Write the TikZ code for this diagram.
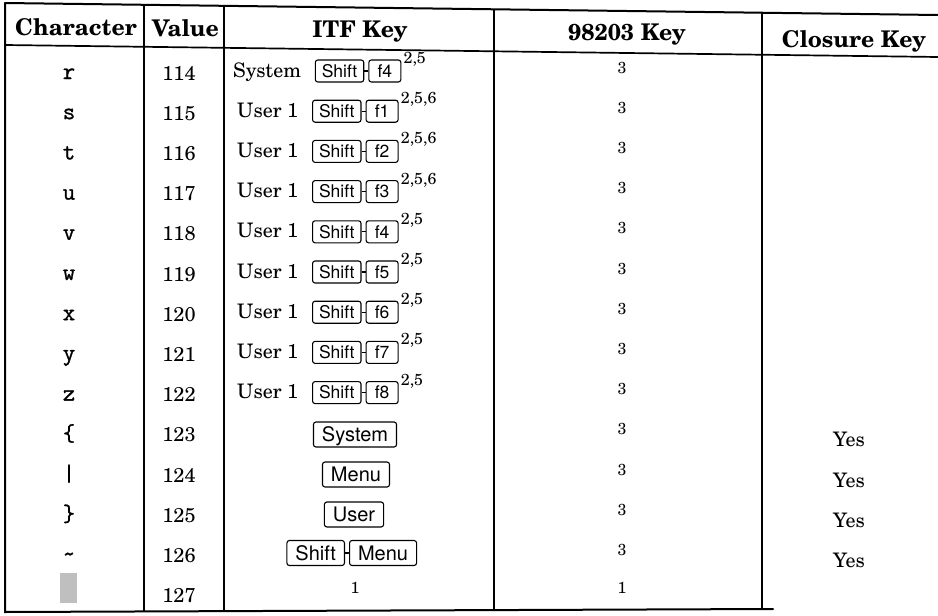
\documentclass[tikz,border=0pt]{standalone}
\usepackage{fontspec}
\setmainfont{texgyreschola}[Extension=.otf, UprightFont=*-regular, BoldFont=*-bold, ItalicFont=*-italic, BoldItalicFont=*-bolditalic]
\newfontfamily\heros{TeX Gyre Heros}
\newfontfamily\ttb{Latin Modern Mono}[FakeBold=1.3]
\usetikzlibrary{calc}
\tikzset{
  border/.style={line width=2pt, line cap=round},
  rule/.style={line width=1.7pt},
  head/.style={font=\bfseries\fontsize{23}{26}\selectfont, anchor=base, inner sep=0pt},
  txt/.style={font=\fontsize{20}{24}\selectfont, inner sep=0pt},
  chr/.style={font=\ttb\fontsize{24}{26}\selectfont, anchor=base, inner sep=0pt},
  small/.style={font=\fontsize{16}{18}\selectfont, anchor=base, inner sep=0pt},
  supr/.style={font=\fontsize{16}{18}\selectfont, anchor=base west, inner sep=0pt},
  key/.style={draw, line width=1.1pt, rounded corners=2.5pt, font=\heros\fontsize{17.5}{17.5}\selectfont,
    text height=12.6pt, text depth=0pt, inner xsep=6.5pt, inner ysep=0pt, minimum height=22pt, minimum width=32pt},
  bigkey/.style={key, font=\heros\fontsize{20}{20}\selectfont, text height=14.4pt, minimum height=25pt, inner xsep=8.5pt},
  link/.style={line width=1.1pt},
}
\begin{document}
\begin{tikzpicture}[x=1pt,y=-1pt]
\useasboundingbox (0,0) rectangle (938,616);
% frame
\draw[border] (5,3) -- (938,15);
\draw[rule] (5,45) -- (938,57);
\draw[border] (5,3) -- (5,612) -- (773,609);
\draw[rule] (144,4.8) -- (144,611.4);
\draw[rule] (224,5.9) -- (224,611.1);
\draw[rule] (494,9.3) -- (494,610.1);
\draw[rule] (762,12.7) -- (762,609);
% headers
\node[head] (hc) at (76,35) {Character};
\node[head] (hv) at (185.5,36) {Value};
\node[head] (hi) at (360,37) {ITF Key};
\node[head] (hk) at (627,40) {98203 Key};
\node[head] (hz) at (854,47) {Closure Key};
% character column
\foreach \i/\c in {0/r,1/s,2/t,3/u,4/v,5/w,6/x,7/y,8/z,9/\{,10/\textbar,11/\},12/\textasciitilde}{
  \pgfmathsetmacro\b{79+40.2*\i}
  \node[chr] (c\i) at (69,\b) {\c};
}
\node[fill=black!25, minimum width=17pt, minimum height=30pt, inner sep=0pt] (c13) at (68.5,588) {};
% value column
\foreach \i in {0,...,13}{
  \pgfmathsetmacro\b{80+40.2*\i}
  \pgfmathtruncatemacro\v{114+\i}
  \node[txt, anchor=base] (v\i) at (179,\b) {\v};
}
% ITF key column, rows with label + Shift-fN
\foreach \i/\lab/\fk/\sup/\x in {0/System/f4/{2,5}/233,1/User 1/f1/{2,5,6}/237,2/User 1/f2/{2,5,6}/237,3/User 1/f3/{2,5,6}/237,4/User 1/f4/{2,5}/237,5/User 1/f5/{2,5}/237,6/User 1/f6/{2,5}/237,7/User 1/f7/{2,5}/237,8/User 1/f8/{2,5}/237}{
  \pgfmathsetmacro\b{77+40.2*\i}
  \node[txt, anchor=base west] (t\i) at (\x,\b) {\lab};
  \node[key, anchor=west] (ks\i) at ($(t\i.base east)+(13.5,-6)$) {Shift};
  \node[key, anchor=west] (kf\i) at ($(ks\i.east)+(4,0)$) {\fk};
  \draw[link] (ks\i.east) -- (kf\i.west);
  \node[supr] (sp\i) at ($(kf\i.north east)+(2,4)$) {\sup};
}
\node[bigkey] (k9) at (355,434.5) {System};
\node[bigkey] (k10) at (356,474.5) {Menu};
\node[bigkey] (k11) at (354,514.5) {User};
\node[bigkey, anchor=east] (k12a) at (345,553) {Shift};
\node[bigkey, anchor=west] (k12b) at (349,553) {Menu};
\draw[link] (k12a.east) -- (k12b.west);
\node[small] (t13) at (355,593) {1};
% 98203 column
\foreach \i in {0,...,12}{
  \pgfmathsetmacro\b{73+40.2*\i}
  \node[small] (n\i) at (622,\b) {3};
}
\node[small] (n13) at (622,593) {1};
% closure column
\foreach \i in {9,...,12}{
  \pgfmathsetmacro\b{85+40.2*\i}
  \node[txt, anchor=base] (y\i) at (849,\b) {Yes};
}
\end{tikzpicture}
\end{document}
